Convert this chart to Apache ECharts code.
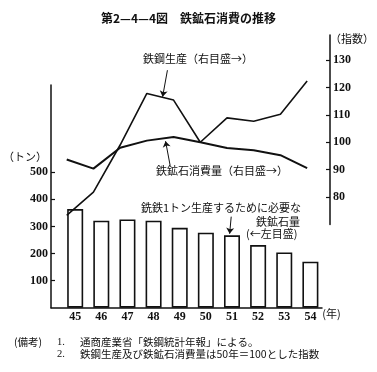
<!DOCTYPE html>
<html>
<head>
<meta charset="utf-8">
<script src="https://cdn.jsdelivr.net/npm/echarts@6/dist/echarts.min.js"></script>
<style>html,body{margin:0;padding:0;background:#fff}#c{width:377px;height:372px}</style>
</head>
<body>
<div id="c"></div>
<script>
// Data
const years = [45, 46, 47, 48, 49, 50, 51, 52, 53, 54];
const orePerTon = [364, 321, 326, 321, 295, 277, 267, 231, 204, 170];   // 左目盛 (トン)
const steelIndex = [73.3, 81.8, 99, 117.8, 115.4, 100, 108.9, 107.7, 110.2, 122.4]; // 右目盛
const oreIndex = [93.7, 90.4, 98, 100.6, 101.9, 100, 97.9, 97.1, 95.3, 90.6];       // 右目盛
const leftTicks = [100, 200, 300, 400, 500];
const rightTicks = [80, 90, 100, 110, 120, 130];

const JP = '"Noto Sans CJK JP", sans-serif';
const NUM = '"Liberation Serif", "DejaVu Serif", serif';
const ink = '#111';

const chart = echarts.init(document.getElementById('c'), null, {renderer: 'canvas'});
const xMin = 44.075, xMax = 54.444;

chart.setOption({
  backgroundColor: '#fff',
  animation: false,
  title: {
    text: '第2—4—4図　鉄鉱石消費の推移',
    left: 'center', top: 7,
    textStyle: {fontFamily: JP, fontSize: 12, fontWeight: 'bold', color: ink}
  },
  grid: [
    {left: 42, right: 55, top: 85, bottom: 64.3},
    {left: 42, right: 55, top: 35, bottom: 147.5}
  ],
  xAxis: [
    {
      type: 'value', gridIndex: 0, min: xMin, max: xMax,
      axisLine: {show: true, lineStyle: {color: ink, width: 1.5}},
      axisTick: {show: false},
      splitLine: {show: false},
      axisLabel: {customValues: years, margin: 3, color: ink, fontFamily: NUM, fontSize: 12, fontWeight: 'bold'},
      name: '(年)', nameLocation: 'end', nameGap: -3.5,
      nameTextStyle: {fontFamily: JP, fontSize: 11, color: ink, align: 'left', verticalAlign: 'top', padding: [1, 0, 0, 0]}
    },
    {
      type: 'value', gridIndex: 1, min: xMin, max: xMax, show: false
    }
  ],
  yAxis: [
    {
      type: 'value', gridIndex: 0, position: 'left', min: 0, max: 822,
      axisLine: {show: true, lineStyle: {color: ink, width: 1.5}},
      axisTick: {show: true, inside: true, length: 4, customValues: leftTicks, lineStyle: {color: ink, width: 1.2}},
      axisLabel: {customValues: leftTicks, margin: 3, color: ink, fontFamily: NUM, fontSize: 12, fontWeight: 'bold'},
      splitLine: {show: false},
      name: '（トン）', nameLocation: 'end', nameGap: -72,
      nameTextStyle: {fontFamily: JP, fontSize: 11, color: ink, align: 'right', verticalAlign: 'middle', padding: [0, 4, 0, 0]}
    },
    {
      type: 'value', gridIndex: 1, position: 'right', offset: 11, min: 70, max: 139.14,
      axisLine: {show: true, lineStyle: {color: ink, width: 1.5}},
      axisTick: {show: true, inside: true, length: 4, customValues: rightTicks, lineStyle: {color: ink, width: 1.2}},
      axisLabel: {customValues: rightTicks, margin: 3, color: ink, fontFamily: NUM, fontSize: 12, fontWeight: 'bold'},
      splitLine: {show: false},
      name: '（指数）', nameLocation: 'end', nameGap: -4,
      nameTextStyle: {fontFamily: JP, fontSize: 11, color: ink, align: 'left', verticalAlign: 'middle', padding: [0, 0, 0, 0]}
    }
  ],
  series: [
    {
      type: 'bar', xAxisIndex: 0, yAxisIndex: 0, barWidth: 16,
      data: years.map((y, i) => [y, orePerTon[i]]),
      itemStyle: {color: '#fff', borderColor: ink, borderWidth: 1.6},
      markLine: {
        silent: true, symbol: ['none', 'arrow'], symbolSize: 6,
        label: {show: false}, lineStyle: {color: ink, width: 1, type: 'solid'},
        data: [[{coord: [50.97, 336]}, {coord: [50.91, 273]}]]
      }
    },
    {
      type: 'line', xAxisIndex: 1, yAxisIndex: 1, symbol: 'none',
      data: years.map((y, i) => [y, steelIndex[i]]),
      lineStyle: {color: ink, width: 1.6},
      markLine: {
        silent: true, symbol: ['none', 'arrow'], symbolSize: 6,
        label: {show: false}, lineStyle: {color: ink, width: 1, type: 'solid'},
        data: [[{coord: [48.77, 126.3]}, {coord: [48.59, 116.6]}]]
      }
    },
    {
      type: 'line', xAxisIndex: 1, yAxisIndex: 1, symbol: 'none',
      data: years.map((y, i) => [y, oreIndex[i]]),
      lineStyle: {color: ink, width: 2},
      markLine: {
        silent: true, symbol: ['none', 'arrow'], symbolSize: 6,
        label: {show: false}, lineStyle: {color: ink, width: 1, type: 'solid'},
        data: [[{coord: [48.87, 91.6]}, {coord: [48.70, 100.4]}]]
      }
    }
  ],
  graphic: [
    {type: 'text', left: 143, top: 53, style: {text: '鉄鋼生産（右目盛→）', font: '11px ' + JP, fill: ink}},
    {type: 'text', left: 156, top: 165, style: {text: '鉄鉱石消費量（右目盛→）', font: '11px ' + JP, fill: ink}},
    {type: 'text', left: 141, top: 202, style: {text: '銑鉄1トン生産するために必要な', font: '11px ' + JP, fill: ink}},
    {type: 'text', left: 256, top: 216, style: {text: '鉄鉱石量', font: '11px ' + JP, fill: ink}},
    {type: 'text', left: 246, top: 228, style: {text: '(←左目盛)', font: '11px ' + JP, fill: ink}},
    {type: 'text', left: 14, top: 337, style: {text: '(備考)', font: '10.5px ' + JP, fill: ink}},
    {type: 'text', left: 57, top: 337, style: {text: '1.', font: '10.5px ' + NUM, fill: ink}},
    {type: 'text', left: 80, top: 337, style: {text: '通商産業省「鉄鋼統計年報」による。', font: '10.5px ' + JP, fill: ink}},
    {type: 'text', left: 57, top: 349, style: {text: '2.', font: '10.5px ' + NUM, fill: ink}},
    {type: 'text', left: 80, top: 349, style: {text: '鉄鋼生産及び鉄鉱石消費量は50年＝100とした指数', font: '10.5px ' + JP, fill: ink}}
  ]
});
</script>
</body>
</html>
